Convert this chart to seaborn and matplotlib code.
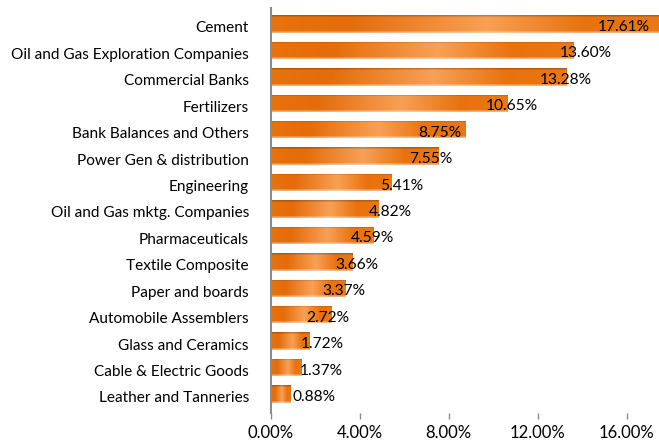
import numpy as np
import pandas as pd
import matplotlib
matplotlib.use("Agg")
import matplotlib.pyplot as plt
import matplotlib.transforms as mtransforms
from matplotlib.colors import LinearSegmentedColormap
import seaborn as sns

categories = ["Cement", "Oil and Gas Exploration Companies", "Commercial Banks",
              "Fertilizers", "Bank Balances and Others", "Power Gen & distribution",
              "Engineering", "Oil and Gas mktg. Companies", "Pharmaceuticals",
              "Textile Composite", "Paper and boards", "Automobile Assemblers",
              "Glass and Ceramics", "Cable & Electric Goods", "Leather and Tanneries"]
values = [17.61, 13.60, 13.28, 10.65, 8.75, 7.55, 5.41, 4.82, 4.59,
          3.66, 3.37, 2.72, 1.72, 1.37, 0.88]
xticks = [0, 4, 8, 12, 16]
# manual nudges (pixels) of the value labels relative to the bar end
label_nudge = [-13, 39, 26, 30, -4, 14, 32, 34, 21, 26, 20, 18, 35, 42, 45]

sns.set_theme(style="white")
plt.rcParams["font.family"] = ["Lato", "DejaVu Sans"]

fig = plt.figure(figsize=(6.59, 4.40), dpi=100)
ax = fig.add_axes([0.4105, 0.062, 0.5895, 0.9198])

df = pd.DataFrame({"cat": categories, "val": values})
BAR_H = 0.66
sns.barplot(data=df, x="val", y="cat", orient="h", color="#E8720C",
            width=BAR_H, ax=ax, saturation=1, edgecolor="none")

# gradient image
stops = [(0.0, "#E8720C"), (0.2, "#E46C0A"), (0.55, "#F9A055"),
         (0.8, "#E8720E"), (1.0, "#EA7814")]
cmap = LinearSegmentedColormap.from_list("og", stops)
ncol, nrow = 256, 24
row = cmap(np.linspace(0, 1, ncol))[:, :3]
img = np.tile(row[None, :, :], (nrow, 1, 1))
img[0:2] = img[0:2] * 0.78
img[-2:] = img[-2:] * 0.55 + 0.45

for p in list(ax.patches):
    x0 = p.get_x()
    w = p.get_width()
    yc = p.get_y() + p.get_height() / 2
    h = p.get_height()
    im = ax.imshow(img, extent=(x0, x0 + w, yc + h / 2, yc - h / 2),
                   origin="upper", aspect="auto", zorder=2, interpolation="bilinear")
    im.set_clip_path(p)
    p.set_facecolor("none")

XMAX = 17.46
ax.set_xlim(0, XMAX)
ax.set_ylim(14.71, -0.605)

for i, (v, dx) in enumerate(zip(values, label_nudge)):
    ax.annotate(f"{v:.2f}%", xy=(v, i), xytext=(dx, -3), textcoords="offset pixels",
                ha="right", va="center", fontsize=11.2, color="black", zorder=5,
                annotation_clip=False)

ax.set_xticks(xticks)
ax.set_xticklabels([f"{t:.2f}%" for t in xticks])
ax.set_xlabel("")
ax.set_ylabel("")

for s in ["top", "right", "bottom"]:
    ax.spines[s].set_visible(False)
ax.spines["left"].set_color("#8C8C8C")
ax.spines["left"].set_linewidth(1.5)

ax.tick_params(axis="x", which="both", bottom=True, length=4, width=1, color="#8C8C8C",
               labelsize=12, labelcolor="black", pad=5, direction="out")
ax.tick_params(axis="y", left=False, labelsize=11.1, labelcolor="black", pad=9.5)

shift = mtransforms.ScaledTranslation(0, -3 / 100, fig.dpi_scale_trans)
for lab in ax.get_yticklabels():
    lab.set_transform(lab.get_transform() + shift)

fig.savefig("out.png", dpi=100)
